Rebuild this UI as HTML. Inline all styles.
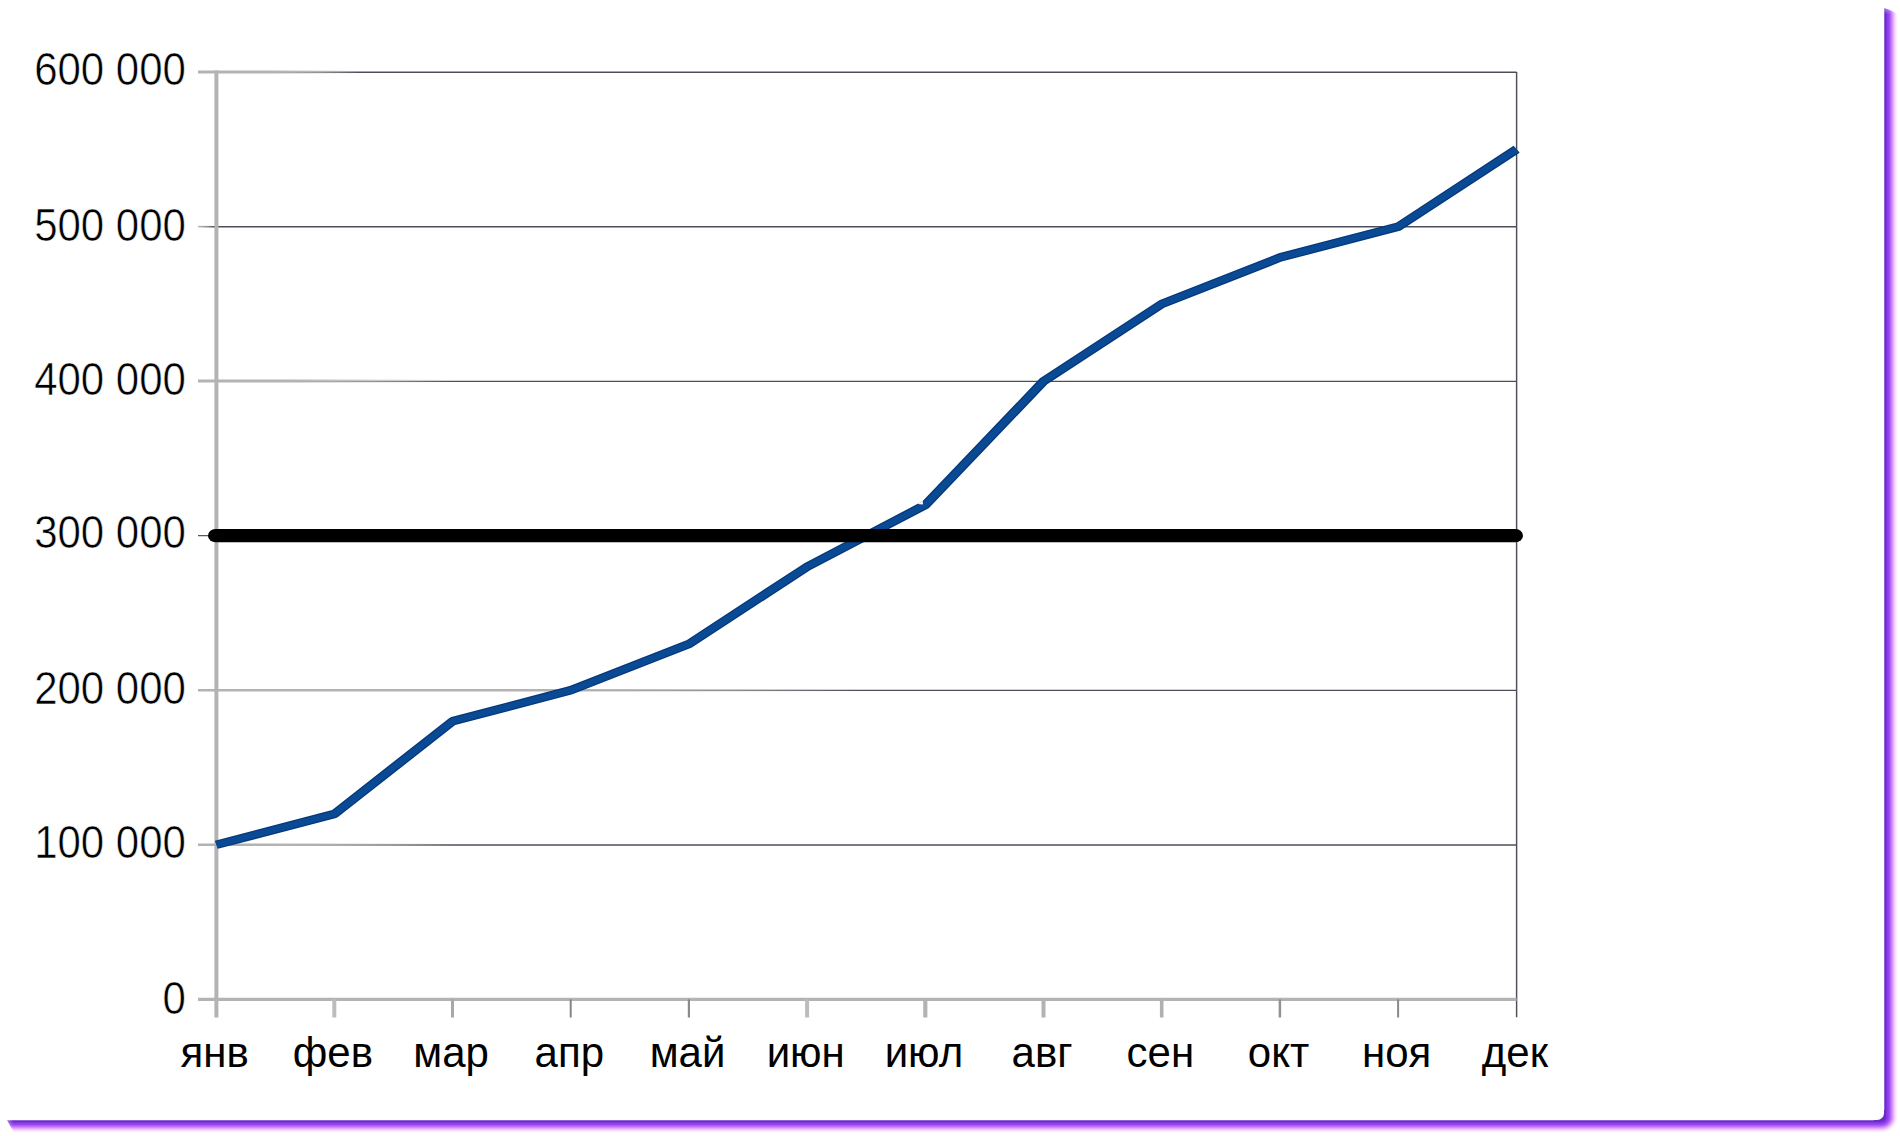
<!DOCTYPE html>
<html lang="ru"><head><meta charset="utf-8"><title>chart</title>
<style>
html,body{margin:0;padding:0;background:#fff;}
body{width:1900px;height:1136px;position:relative;overflow:hidden;font-family:"Liberation Sans",sans-serif;}
.sh-r{position:absolute;left:1884px;top:8px;width:14px;height:1109px;clip-path:polygon(0 0,5px 1.7px,8px 3px,11px 4.5px,13px 6px,14px 7.5px,14px 100%,0 100%);background:linear-gradient(to bottom,rgba(255,255,255,.4),rgba(255,255,255,0) 6px),linear-gradient(to right,#b79ae6 0,#6a2cc2 1px,#6a2cc2 1.5px,#8035dc 2.5px,#8a3ce6 3.5px,#9444ee 4.5px,#a050f4 5.5px,#b466fa 6.5px,#c57ffc 7.5px,#d699fc 8.5px,#e6b3fb 9.5px,#f2cbfb 10.5px,#fadefc 11.5px,#fdeffe 12.5px,#fff 14px);}
.sh-b{position:absolute;left:7px;top:1120px;width:1874px;height:14px;clip-path:polygon(0 0,100% 0,100% 100%,7.5px 100%,5.7px 10px,3.6px 6.6px,1.5px 2.8px);background:linear-gradient(to right,rgba(255,255,255,.4),rgba(255,255,255,0) 6px),linear-gradient(to bottom,#b79ae6 0,#6a2cc2 1px,#6a2cc2 1.39px,#8035dc 2.32px,#8a3ce6 3.25px,#9444ee 4.18px,#a050f4 5.11px,#b466fa 6.04px,#c57ffc 6.96px,#d699fc 7.89px,#e6b3fb 8.82px,#f2cbfb 9.75px,#fadefc 10.68px,#fdeffe 11.61px,#fff 13.00px);}
.sh-c{position:absolute;left:1881px;top:1117px;width:17px;height:17px;background:radial-gradient(ellipse 17px 16.00px at 0 0,#6a2cc2 0,#6a2cc2 26.47%,#8035dc 32.35%,#8a3ce6 38.24%,#9444ee 44.12%,#a050f4 50.00%,#b466fa 55.88%,#c57ffc 61.76%,#d699fc 67.65%,#e6b3fb 73.53%,#f2cbfb 79.41%,#fadefc 85.29%,#fdeffe 91.18%,#fff 100.00%);}
.sh-f{position:absolute;left:1874px;top:1110px;width:11px;height:11px;background:#6a2cc2;}
.card{position:absolute;left:0;top:0;width:1884px;height:1120px;background:#fff;border-radius:7px;}
svg{position:absolute;left:0;top:0;}
svg text{font-family:"Liberation Sans",sans-serif;font-size:42px;fill:#000;}
</style></head><body>
<div class="sh-r"></div><div class="sh-b"></div><div class="sh-f"></div><div class="sh-c"></div>
<div class="card"></div>
<svg width="1900" height="1136" viewBox="0 0 1900 1136">
<defs><linearGradient id="g600" gradientUnits="userSpaceOnUse" x1="270" y1="0" x2="360" y2="0"><stop offset="0" stop-color="#b3b3b3" stop-opacity="1"/><stop offset="1" stop-color="#b3b3b3" stop-opacity="0"/></linearGradient><linearGradient id="d600" gradientUnits="userSpaceOnUse" x1="270" y1="0" x2="360" y2="0"><stop offset="0" stop-color="#4e4e58" stop-opacity="0"/><stop offset="1" stop-color="#4e4e58" stop-opacity="1"/></linearGradient><linearGradient id="g500" gradientUnits="userSpaceOnUse" x1="198" y1="0" x2="214" y2="0"><stop offset="0" stop-color="#b3b3b3" stop-opacity="1"/><stop offset="1" stop-color="#b3b3b3" stop-opacity="0"/></linearGradient><linearGradient id="d500" gradientUnits="userSpaceOnUse" x1="198" y1="0" x2="214" y2="0"><stop offset="0" stop-color="#4e4e58" stop-opacity="0"/><stop offset="1" stop-color="#4e4e58" stop-opacity="1"/></linearGradient><linearGradient id="g400" gradientUnits="userSpaceOnUse" x1="290" y1="0" x2="450" y2="0"><stop offset="0" stop-color="#b3b3b3" stop-opacity="1"/><stop offset="1" stop-color="#b3b3b3" stop-opacity="0"/></linearGradient><linearGradient id="d400" gradientUnits="userSpaceOnUse" x1="290" y1="0" x2="450" y2="0"><stop offset="0" stop-color="#4e4e58" stop-opacity="0"/><stop offset="1" stop-color="#4e4e58" stop-opacity="1"/></linearGradient><linearGradient id="g200" gradientUnits="userSpaceOnUse" x1="560" y1="0" x2="860" y2="0"><stop offset="0" stop-color="#b3b3b3" stop-opacity="1"/><stop offset="1" stop-color="#b3b3b3" stop-opacity="0"/></linearGradient><linearGradient id="d200" gradientUnits="userSpaceOnUse" x1="560" y1="0" x2="860" y2="0"><stop offset="0" stop-color="#4e4e58" stop-opacity="0"/><stop offset="1" stop-color="#4e4e58" stop-opacity="1"/></linearGradient><linearGradient id="g100" gradientUnits="userSpaceOnUse" x1="270" y1="0" x2="450" y2="0"><stop offset="0" stop-color="#b3b3b3" stop-opacity="1"/><stop offset="1" stop-color="#b3b3b3" stop-opacity="0"/></linearGradient><linearGradient id="d100" gradientUnits="userSpaceOnUse" x1="270" y1="0" x2="450" y2="0"><stop offset="0" stop-color="#4e4e58" stop-opacity="0"/><stop offset="1" stop-color="#4e4e58" stop-opacity="1"/></linearGradient>
</defs>
<line x1="198" y1="72.00" x2="1516.6" y2="72.001" stroke="url(#g600)" stroke-width="2.8"/>
<line x1="198" y1="72.20" x2="1516.6" y2="72.201" stroke="url(#d600)" stroke-width="1.35"/>
<line x1="198" y1="226.55" x2="1516.6" y2="226.551" stroke="url(#g500)" stroke-width="1.6"/>
<line x1="198" y1="226.75" x2="1516.6" y2="226.751" stroke="url(#d500)" stroke-width="1.35"/>
<line x1="198" y1="381.10" x2="1516.6" y2="381.101" stroke="url(#g400)" stroke-width="3.0"/>
<line x1="198" y1="381.30" x2="1516.6" y2="381.301" stroke="url(#d400)" stroke-width="1.35"/>
<line x1="198" y1="690.20" x2="1516.6" y2="690.201" stroke="url(#g200)" stroke-width="2.6"/>
<line x1="198" y1="690.40" x2="1516.6" y2="690.401" stroke="url(#d200)" stroke-width="1.35"/>
<line x1="198" y1="844.75" x2="1516.6" y2="844.751" stroke="url(#g100)" stroke-width="2.6"/>
<line x1="198" y1="844.95" x2="1516.6" y2="844.951" stroke="url(#d100)" stroke-width="1.35"/>
<line x1="198" y1="535.65" x2="216.4" y2="535.65" stroke="#4e4e58" stroke-width="1.2"/>
<line x1="1516.6" y1="72.0" x2="1516.6" y2="1017.3" stroke="#4e4e58" stroke-width="1.45"/>
<line x1="216.4" y1="70.5" x2="216.4" y2="1017.5" stroke="#b3b3b3" stroke-width="4"/>
<line x1="198" y1="999.3" x2="1516.6" y2="999.3" stroke="#b3b3b3" stroke-width="3.3"/>
<line x1="334.30" y1="999.3" x2="334.30" y2="1017.5" stroke="#bcbcbc" stroke-width="4"/>
<line x1="452.50" y1="999.3" x2="452.50" y2="1017.5" stroke="#a8a8a8" stroke-width="3"/>
<line x1="570.70" y1="999.3" x2="570.70" y2="1017.5" stroke="#858585" stroke-width="2"/>
<line x1="688.90" y1="999.3" x2="688.90" y2="1017.5" stroke="#8a8a8a" stroke-width="2.2"/>
<line x1="807.10" y1="999.3" x2="807.10" y2="1017.5" stroke="#bcbcbc" stroke-width="4"/>
<line x1="925.30" y1="999.3" x2="925.30" y2="1017.5" stroke="#b3b3b3" stroke-width="4.2"/>
<line x1="1043.50" y1="999.3" x2="1043.50" y2="1017.5" stroke="#b3b3b3" stroke-width="4"/>
<line x1="1161.70" y1="999.3" x2="1161.70" y2="1017.5" stroke="#b0b0b0" stroke-width="3.6"/>
<line x1="1279.90" y1="999.3" x2="1279.90" y2="1017.5" stroke="#929292" stroke-width="2.5"/>
<line x1="1398.10" y1="999.3" x2="1398.10" y2="1017.5" stroke="#888" stroke-width="2"/>
<g transform="scale(1,0.86)" fill="none" stroke-linejoin="round" stroke-linecap="butt"><polyline points="216.40,982.27 334.60,946.33 452.80,838.50 571.00,802.56 689.20,748.65 807.40,658.79 925.60,586.91 1043.80,443.14 1162.00,353.28 1280.20,299.37 1398.40,263.43 1516.60,173.58" stroke="#05387a" stroke-width="10"/><polyline points="216.40,982.27 334.60,946.33 452.80,838.50 571.00,802.56 689.20,748.65 807.40,658.79 925.60,586.91 1043.80,443.14 1162.00,353.28 1280.20,299.37 1398.40,263.43 1516.60,173.58" stroke="#0a4994" stroke-width="7.2"/></g>
<polygon points="917.4,504.0 922.9,501.0 922.9,504.4" fill="#fff"/>
<rect x="208" y="529.05" width="1315" height="13.2" rx="7.4" ry="6.6" fill="#000"/>
<text transform="translate(185.9,85.07) scale(1,1.1)" text-anchor="end" stroke="#fff" stroke-width="0.5">600 000</text>
<text transform="translate(185.9,240.90) scale(1,1.1)" text-anchor="end" stroke="#fff" stroke-width="0.5">500 000</text>
<text transform="translate(185.9,394.60) scale(1,1.1)" text-anchor="end" stroke="#fff" stroke-width="0.5">400 000</text>
<text transform="translate(185.9,547.90) scale(1,1.1)" text-anchor="end" stroke="#fff" stroke-width="0.5">300 000</text>
<text transform="translate(185.9,704.20) scale(1,1.1)" text-anchor="end" stroke="#fff" stroke-width="0.5">200 000</text>
<text transform="translate(185.9,857.65) scale(1,1.1)" text-anchor="end" stroke="#fff" stroke-width="0.5">100 000</text>
<text transform="translate(185.9,1013.60) scale(1,1.1)" text-anchor="end" stroke="#fff" stroke-width="0.5">0</text>
<text transform="translate(214.70,1066.7) scale(1,1.01)" text-anchor="middle">янв</text>
<text transform="translate(332.90,1066.7) scale(1,1.01)" text-anchor="middle">фев</text>
<text transform="translate(451.10,1066.7) scale(1,1.01)" text-anchor="middle">мар</text>
<text transform="translate(569.30,1066.7) scale(1,1.01)" text-anchor="middle">апр</text>
<text transform="translate(687.50,1066.7) scale(1,1.01)" text-anchor="middle">май</text>
<text transform="translate(805.70,1066.7) scale(1,1.01)" text-anchor="middle">июн</text>
<text transform="translate(923.90,1066.7) scale(1,1.01)" text-anchor="middle">июл</text>
<text transform="translate(1042.10,1066.7) scale(1,1.01)" text-anchor="middle">авг</text>
<text transform="translate(1160.30,1066.7) scale(1,1.01)" text-anchor="middle">сен</text>
<text transform="translate(1278.50,1066.7) scale(1,1.01)" text-anchor="middle">окт</text>
<text transform="translate(1396.70,1066.7) scale(1,1.01)" text-anchor="middle">ноя</text>
<text transform="translate(1514.90,1066.7) scale(1,1.01)" text-anchor="middle">дек</text>
</svg>
</body></html>
